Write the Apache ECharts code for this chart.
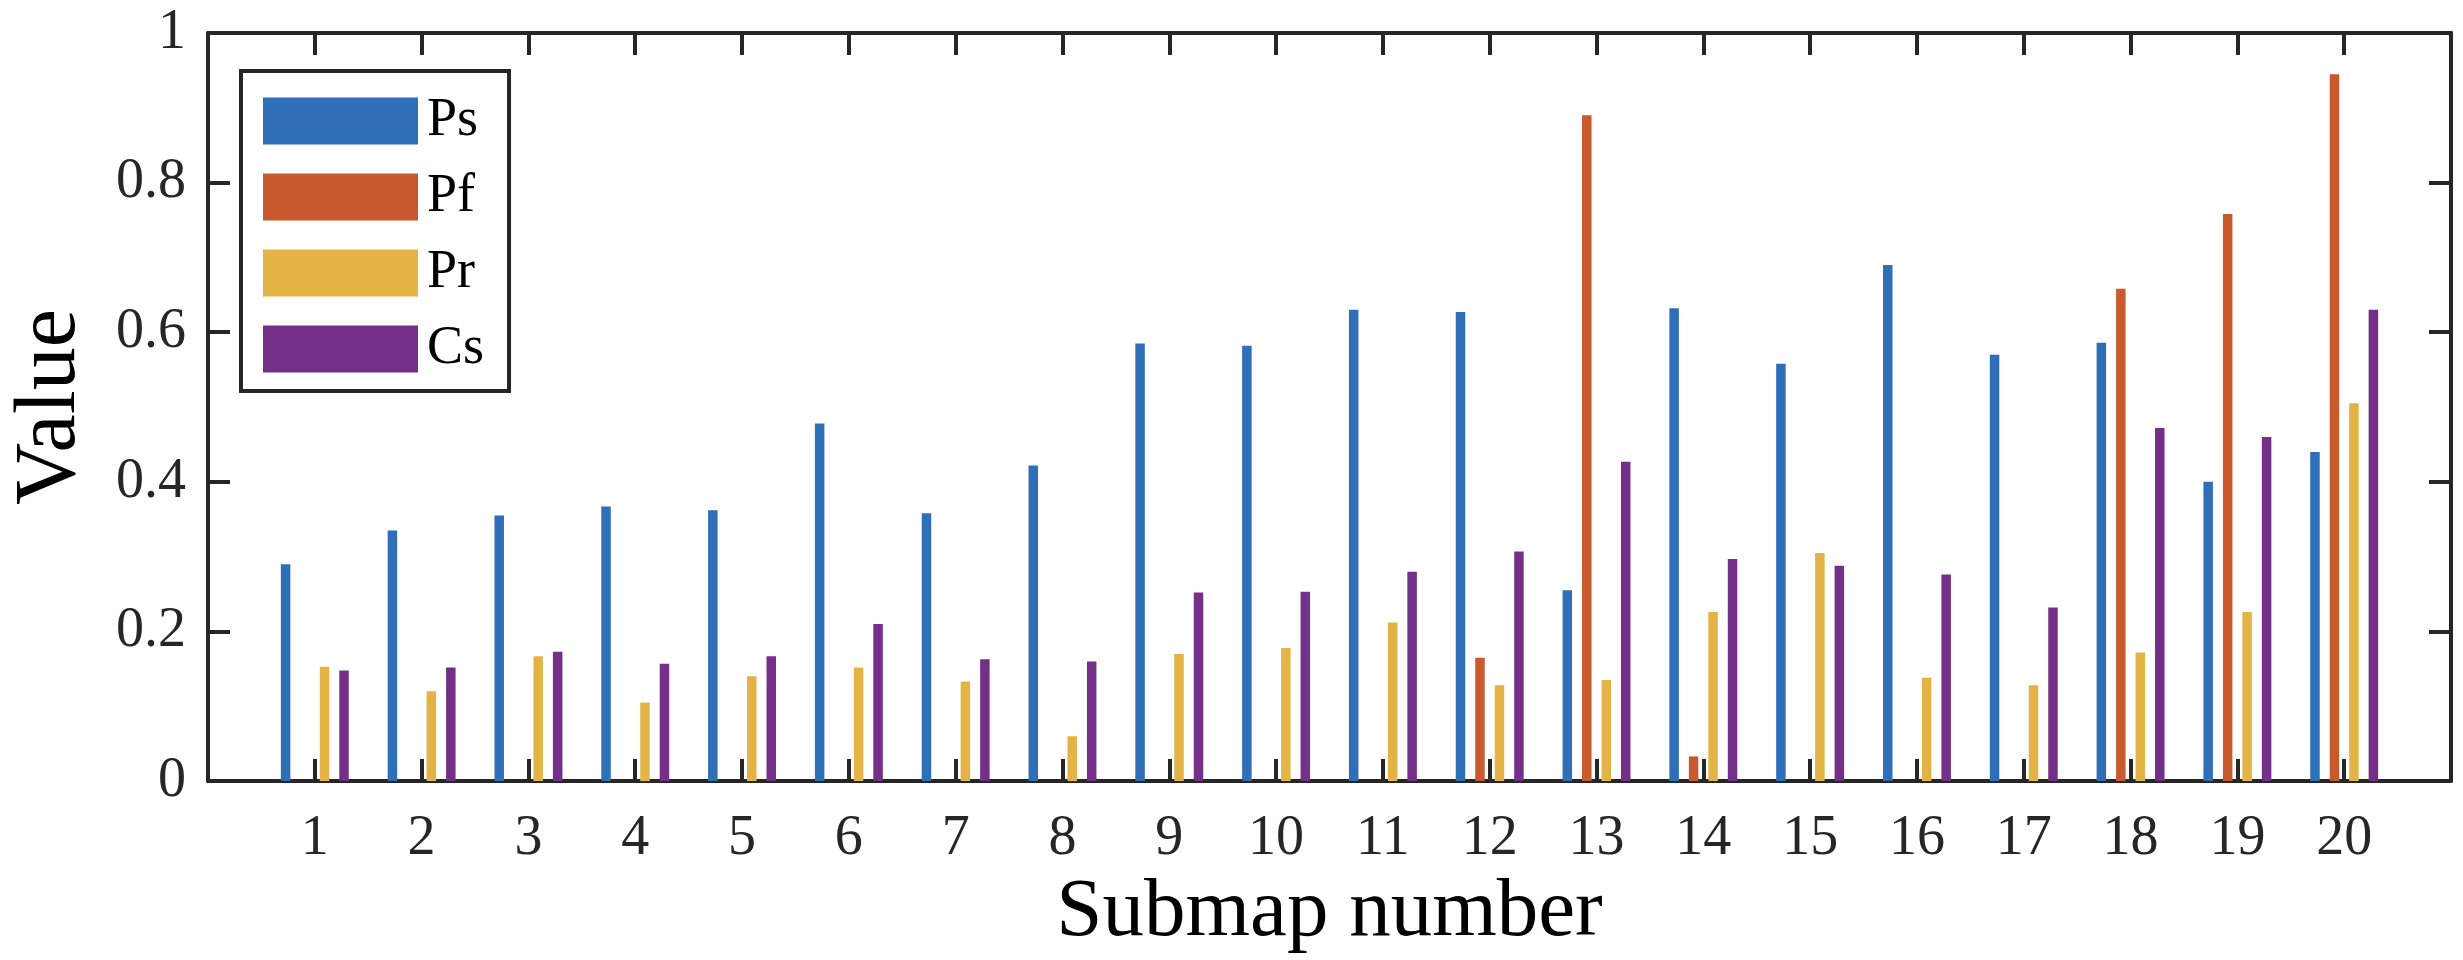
<!DOCTYPE html>
<html>
<head>
<meta charset="utf-8">
<script src="https://cdn.jsdelivr.net/npm/echarts@6/dist/echarts.min.js"></script>
<style>html,body{margin:0;padding:0;background:#fff}#main{width:2463px;height:960px}</style>
</head>
<body>
<div id="main"></div>
<script>
(function () {
    "use strict";
    var categories = [1, 2, 3, 4, 5, 6, 7, 8, 9, 10, 11, 12, 13, 14, 15, 16, 17, 18, 19, 20];
    var seriesNames = ['Ps', 'Pf', 'Pr', 'Cs'];
    var ps = [0.29, 0.335, 0.355, 0.367, 0.362, 0.478, 0.358, 0.422, 0.585, 0.582, 0.63, 0.627, 0.255, 0.632, 0.558, 0.69, 0.57, 0.586, 0.40, 0.44];
    var pf = [0, 0, 0, 0, 0, 0, 0, 0, 0, 0, 0, 0.165, 0.89, 0.033, 0, 0, 0, 0.658, 0.758, 0.945];
    var pr = [0.153, 0.12, 0.167, 0.105, 0.14, 0.152, 0.133, 0.06, 0.17, 0.178, 0.212, 0.128, 0.135, 0.226, 0.305, 0.138, 0.128, 0.172, 0.226, 0.505];
    var cs = [0.148, 0.152, 0.173, 0.157, 0.167, 0.21, 0.163, 0.16, 0.252, 0.253, 0.28, 0.307, 0.427, 0.297, 0.288, 0.276, 0.232, 0.472, 0.46, 0.63];
    var colors = ['#2e6fb7', '#c95a2e', '#e3b346', '#743088'];
    var font = 'Liberation Serif';
    var ink = '#262626';

    function pairs(values) {
        return values.map(function (v, i) { return [categories[i], v]; });
    }

    function xAxis(pos, labels) {
        return {
            type: 'value', position: pos, min: 0, max: 21, interval: 1,
            splitLine: {show: false},
            axisLine: {show: true, onZero: false, lineStyle: {color: ink, width: 4}},
            axisTick: {show: true, inside: true, length: 22, lineStyle: {color: ink, width: 4}},
            axisLabel: {
                show: labels, margin: 30, color: ink, fontFamily: font, fontSize: 56,
                formatter: function (v) { return (v < 1 || v > 20) ? '' : String(v); }
            },
            name: labels ? 'Submap number' : '', nameLocation: 'middle', nameGap: 85,
            nameTextStyle: {color: '#000', fontFamily: font, fontSize: 83}
        };
    }

    function yAxis(pos, labels) {
        return {
            type: 'value', position: pos, min: 0, max: 1, interval: 0.2,
            splitLine: {show: false},
            axisLine: {show: true, onZero: false, lineStyle: {color: ink, width: 4}},
            axisTick: {show: true, inside: true, length: 22, lineStyle: {color: ink, width: 4}},
            axisLabel: {
                show: labels, margin: 22, color: ink, fontFamily: font, fontSize: 56,
                formatter: function (v) { return String(+v.toFixed(1)); }
            },
            name: labels ? 'Value' : '', nameLocation: 'middle', nameGap: 114,
            nameTextStyle: {color: '#000', fontFamily: font, fontSize: 86}
        };
    }

    var data = [ps, pf, pr, cs];
    var series = seriesNames.map(function (name, i) {
        return {
            name: name, type: 'bar', data: pairs(data[i]),
            barWidth: 9.5, barGap: '105%',
            itemStyle: {color: colors[i]}
        };
    });

    var chart = echarts.init(document.getElementById('main'));
    chart.setOption({
        animation: false,
        grid: {left: 200, right: 12, top: 33, bottom: 178},
        xAxis: [xAxis('bottom', true), xAxis('top', false)],
        yAxis: [yAxis('left', true), yAxis('right', false)],
        legend: {
            orient: 'vertical', left: 241, top: 71,
            padding: [23, 25, 15, 22],
            itemWidth: 155, itemHeight: 47, itemGap: 22,
            borderColor: ink, borderWidth: 4, backgroundColor: '#fff',
            icon: 'rect',
            textStyle: {color: '#000', fontFamily: font, fontSize: 54, padding: [0, 0, 0, 4]},
            data: seriesNames
        },
        series: series
    });
}());
</script>
</body>
</html>
